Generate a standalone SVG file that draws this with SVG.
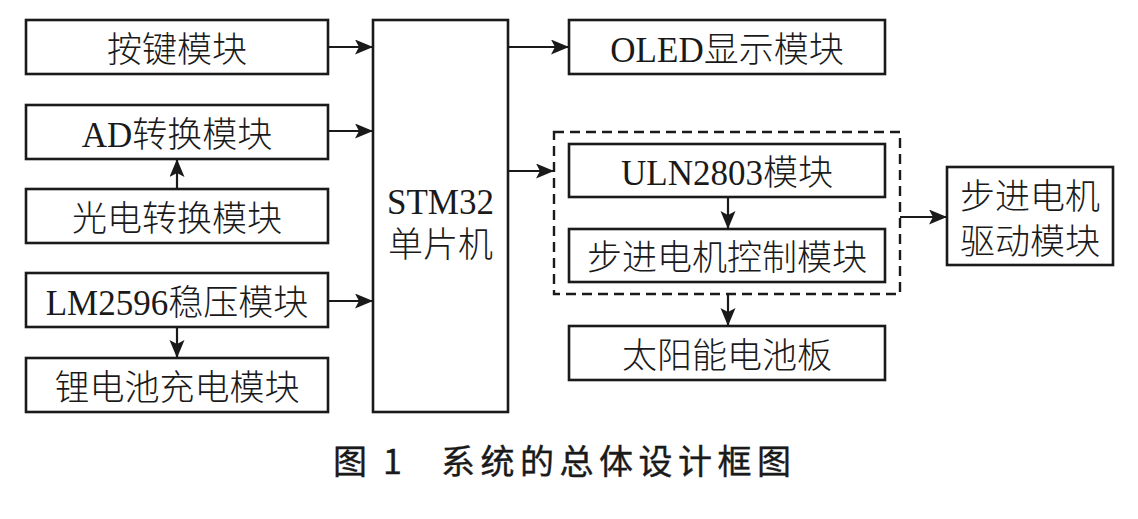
<svg xmlns="http://www.w3.org/2000/svg" width="1138" height="519" viewBox="0 0 1138 519">
<style>
.box{fill:#fff;stroke:#1a1a1a;stroke-width:2.6}
.dash{fill:none;stroke:#1a1a1a;stroke-width:2.4;stroke-dasharray:10 6}
.t{font-family:"Liberation Serif","Noto Sans CJK SC",serif;font-size:35px;font-weight:300;fill:#1a1a1a;text-anchor:middle}
.ln{fill:none;stroke:#1a1a1a;stroke-width:2.2}
.cap{font-family:"Noto Sans CJK SC","Noto Sans",sans-serif;font-size:34px;font-weight:400;fill:#1a1a1a;stroke:#1a1a1a;stroke-width:0.4}
</style>
<defs>
<marker id="ah" markerUnits="userSpaceOnUse" markerWidth="20" markerHeight="16" refX="18" refY="7.5" orient="auto">
<path d="M0,0 L18,7.5 L0,15 L4,7.5 Z" fill="#1a1a1a"/>
</marker>
</defs>
<rect width="1138" height="519" fill="#fff"/>
<g id="connectors">
<line class="ln" x1="328" y1="47" x2="373" y2="47" marker-end="url(#ah)"/>
<line class="ln" x1="328" y1="131" x2="373" y2="131" marker-end="url(#ah)"/>
<line class="ln" x1="328" y1="301" x2="373" y2="301" marker-end="url(#ah)"/>
<line class="ln" x1="177" y1="189" x2="177" y2="159" marker-end="url(#ah)"/>
<line class="ln" x1="177" y1="327" x2="177" y2="358" marker-end="url(#ah)"/>
<line class="ln" x1="508" y1="47" x2="569" y2="47" marker-end="url(#ah)"/>
<line class="ln" x1="508" y1="171" x2="554" y2="171" marker-end="url(#ah)"/>
<line class="ln" x1="728" y1="197" x2="728" y2="229" marker-end="url(#ah)"/>
<line class="ln" x1="728" y1="294" x2="728" y2="326" marker-end="url(#ah)"/>
<line class="ln" x1="900" y1="217" x2="947" y2="217" marker-end="url(#ah)"/>
</g>
<g id="node-key"><rect class="box" x="26" y="20" width="302" height="54"/><text class="t" x="177" y="62">按键模块</text></g>
<g id="node-ad"><rect class="box" x="26" y="105" width="302" height="54"/><text class="t" x="177" y="147">AD转换模块</text></g>
<g id="node-photo"><rect class="box" x="26" y="189" width="302" height="54"/><text class="t" x="177" y="231">光电转换模块</text></g>
<g id="node-lm"><rect class="box" x="26" y="273" width="302" height="54"/><text class="t" x="177" y="315">LM2596稳压模块</text></g>
<g id="node-li"><rect class="box" x="26" y="358" width="302" height="54"/><text class="t" x="177" y="400">锂电池充电模块</text></g>
<g id="node-stm32"><rect class="box" x="373" y="20" width="135" height="392"/><text class="t" x="440.5" y="214">STM32</text><text class="t" x="440.5" y="257">单片机</text></g>
<g id="node-oled"><rect class="box" x="569" y="20" width="316" height="54"/><text class="t" x="727" y="62">OLED显示模块</text></g>
<g id="group-driver"><rect class="dash" x="554" y="132" width="346" height="162"/></g>
<g id="node-uln"><rect class="box" x="569" y="144" width="316" height="53"/><text class="t" x="727" y="185">ULN2803模块</text></g>
<g id="node-ctrl"><rect class="box" x="569" y="229" width="316" height="53"/><text class="t" x="727" y="270">步进电机控制模块</text></g>
<g id="node-solar"><rect class="box" x="569" y="326" width="316" height="54"/><text class="t" x="727" y="368">太阳能电池板</text></g>
<g id="node-drive"><rect class="box" x="947" y="167" width="166" height="98"/><text class="t" x="1030" y="209">步进电机</text><text class="t" x="1030" y="254">驱动模块</text></g>
<text class="cap" x="333" y="474">图<tspan x="383">1</tspan><tspan x="441" letter-spacing="5.5">系统的总体设计框图</tspan></text>
</svg>
